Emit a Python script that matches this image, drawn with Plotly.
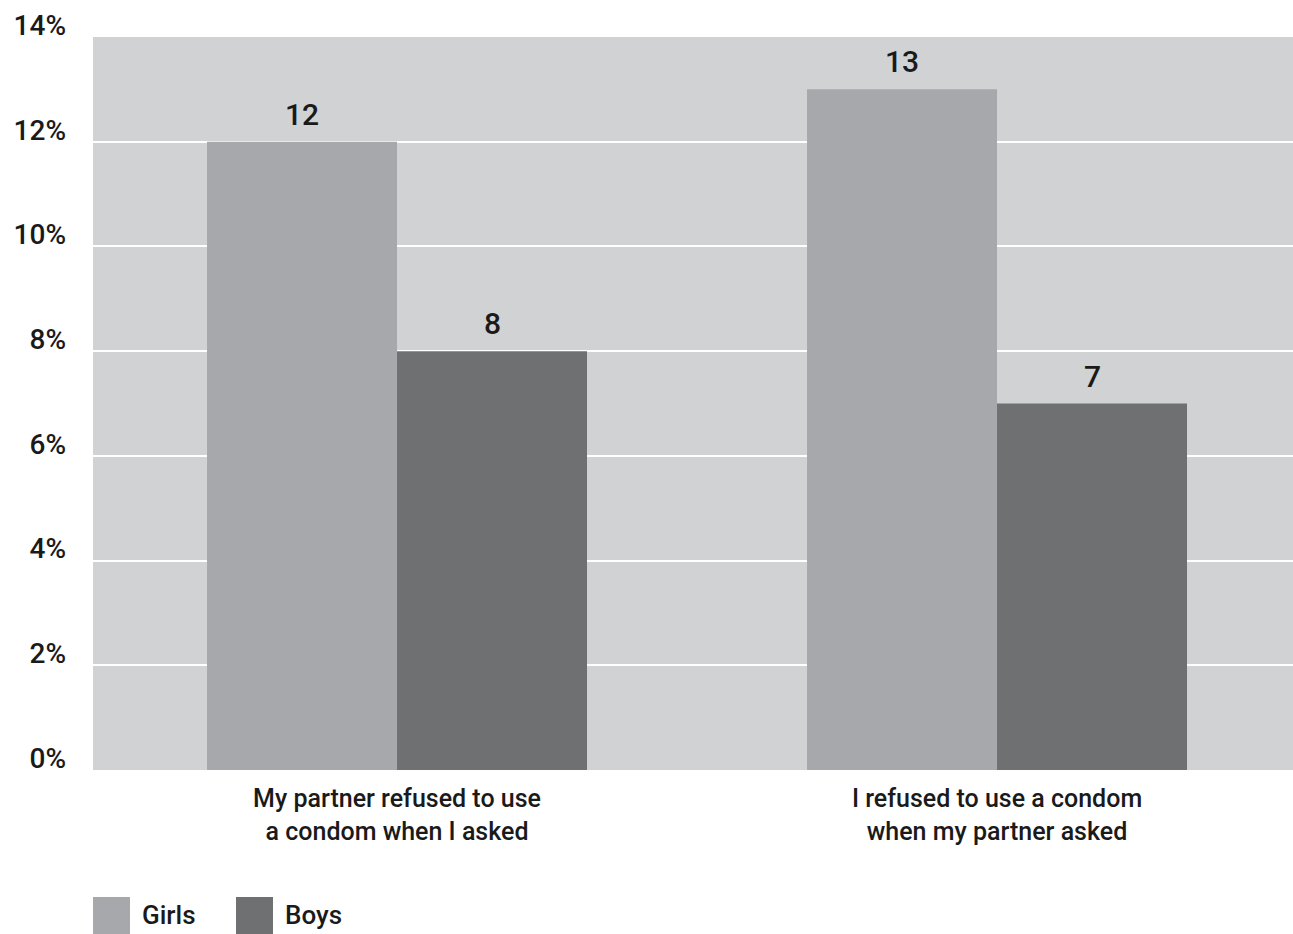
import plotly.graph_objects as go

# Survey results: share of respondents reporting each situation
categories = ["My partner refused to use<br>a condom when I asked",
              "I refused to use a condom<br>when my partner asked"]
girls = [12, 13]
boys = [8, 7]
series_names = ["Girls", "Boys"]
tick_values = [0, 2, 4, 6, 8, 10, 12, 14]
tick_labels = ["0%", "2%", "4%", "6%", "8%", "10%", "12%", "14%"]

GIRLS_COLOR = "#a7a8ab"
BOYS_COLOR = "#6f7072"
BG_COLOR = "#d1d2d4"
TEXT_COLOR = "#1a1a1a"
FONT = "Roboto"
WEIGHT = 500

fig = go.Figure()
fig.add_trace(go.Bar(x=categories, y=girls, name=series_names[0],
                     marker=dict(color=GIRLS_COLOR, line=dict(width=0))))
fig.add_trace(go.Bar(x=categories, y=boys, name=series_names[1],
                     marker=dict(color=BOYS_COLOR, line=dict(width=0))))

# value labels above each bar
bargap = 0.3667
half = (1 - bargap) / 4
for i in range(len(categories)):
    for offset, vals in ((-half, girls), (half, boys)):
        fig.add_annotation(x=i + offset, y=vals[i], xref="x", yref="y",
                           text=str(vals[i]), showarrow=False,
                           yanchor="bottom", yshift=8,
                           font=dict(family=FONT, size=30, color=TEXT_COLOR,
                                     weight=WEIGHT))

# legend swatches below the chart
W, H = 1293, 934
PLOT_W, PLOT_H = 1200, 733
legend_items = [(series_names[0], GIRLS_COLOR, 0), (series_names[1], BOYS_COLOR, 143)]
for name, color, px in legend_items:
    fig.add_shape(type="rect", xref="paper", yref="paper",
                  x0=px / PLOT_W, x1=(px + 37) / PLOT_W,
                  y0=-164 / PLOT_H, y1=-127 / PLOT_H,
                  fillcolor=color, line=dict(width=0))
    fig.add_annotation(xref="paper", yref="paper",
                       x=(px + 47) / PLOT_W, y=-145 / PLOT_H,
                       text=name, showarrow=False, xanchor="left", yanchor="middle",
                       font=dict(family=FONT, size=26, color=TEXT_COLOR,
                                 weight=WEIGHT))

fig.update_layout(
    width=W, height=H,
    margin=dict(l=93, r=0, t=37, b=164),
    paper_bgcolor="white",
    plot_bgcolor=BG_COLOR,
    barmode="group",
    bargap=bargap,
    bargroupgap=0,
    showlegend=False,
    font=dict(family=FONT, color=TEXT_COLOR),
    xaxis=dict(range=[-0.5067, 1.4933], showgrid=False, zeroline=False,
               showline=False, ticks="", ticklabelstandoff=11,
               tickfont=dict(size=25, color=TEXT_COLOR, weight=WEIGHT)),
    yaxis=dict(range=[0, 14], tickvals=tick_values, ticktext=tick_labels,
               showgrid=True, gridcolor="white", gridwidth=2, zeroline=False,
               showline=False, ticks="", ticklabelstandoff=26,
               ticklabelshift=-12,
               tickfont=dict(size=28, color=TEXT_COLOR, weight=WEIGHT)),
)

fig.write_html("out.html")
